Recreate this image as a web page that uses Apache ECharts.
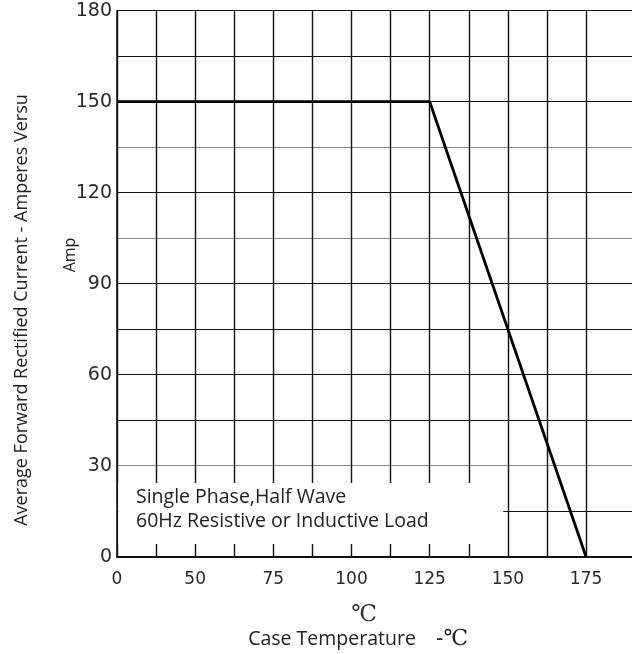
<!DOCTYPE html>
<html>
<head>
<meta charset="utf-8">
<script src="https://cdn.jsdelivr.net/npm/echarts@6/dist/echarts.min.js"></script>
<style>html,body{margin:0;padding:0;background:#fff}#c{width:632px;height:654px}</style>
</head>
<body>
<div id="c"></div>
<script>
// Data
const temps = [25, 125, 175];
const amps = [150, 150, 0];
const xTickValues = [25, 50, 75, 100, 125, 150, 175];
const xTickLabels = ['0', '50', '75', '100', '125', '150', '175'];
const yTickValues = [0, 30, 60, 90, 120, 150, 180];
const yTickLabels = ['0', '30', '60', '90', '120', '150', '180'];
const noteLines = ['Single Phase,Half Wave', '60Hz Resistive or Inductive Load'];

const chart = echarts.init(document.getElementById('c'), null, {renderer: 'canvas'});
const FONT = 'Open Sans';
const NUMFONT = 'DejaVu Sans';
const xColors = [];
for (let i = 0; i < 13; i++) xColors.push('#111');
xColors.push('rgba(0,0,0,0)', 'rgba(0,0,0,0)', 'rgba(0,0,0,0)');
const yColors = ['#111', '#111', '#8a8a8a', '#111', '#111', '#111', '#111', '#8a8a8a', '#111', '#8a8a8a', '#111', '#111', '#111'];

chart.setOption({
  animation: false,
  backgroundColor: '#fff',
  grid: {left: 117, right: 0, top: 10.7, bottom: 97.3, containLabel: false},
  xAxis: {
    type: 'value', min: 25, max: 189.7, interval: 12.5,
    axisLine: {show: true, onZero: false, lineStyle: {color: '#111', width: 2}},
    axisTick: {show: false},
    axisLabel: {
      color: '#2a2a2a', fontFamily: NUMFONT, fontSize: 17, margin: 14,
      showMinLabel: true, showMaxLabel: false,
      formatter: v => { const i = xTickValues.indexOf(v); return i >= 0 ? xTickLabels[i] : ''; }
    },
    splitLine: {show: true, showMinLine: true, showMaxLine: false, lineStyle: {color: xColors, width: 1.4}}
  },
  yAxis: {
    type: 'value', min: 0, max: 180, interval: 15,
    axisLine: {show: true, lineStyle: {color: '#111', width: 1.5}},
    axisTick: {show: false},
    axisLabel: {
      color: '#2a2a2a', fontFamily: NUMFONT, fontSize: 19, margin: 5,
      formatter: v => { const i = yTickValues.indexOf(v); return i >= 0 ? yTickLabels[i] : ''; }
    },
    splitLine: {show: true, lineStyle: {color: yColors, width: 1.2}}
  },
  series: [{
    type: 'line',
    data: temps.map((t, i) => [t, amps[i]]),
    symbol: 'none',
    lineStyle: {color: '#000', width: 2.8},
    z: 5,
    markArea: {
      silent: true,
      itemStyle: {color: '#fff'},
      label: {show: false},
      data: [[{coord: [25.4, 4.2]}, {coord: [148.5, 24.3]}]]
    }
  }],
  graphic: [
    {type: 'text', x: 136, y: 497, z: 10,
     style: {text: noteLines[0], fontFamily: FONT, fontSize: 19.5, fill: '#222', verticalAlign: 'middle'}},
    {type: 'text', x: 136, y: 521, z: 10,
     style: {text: noteLines[1], fontFamily: FONT, fontSize: 19.5, fill: '#222', verticalAlign: 'middle'}},
    {type: 'text', x: 22, y: 310, rotation: Math.PI / 2, z: 10,
     style: {text: 'Average Forward Rectified Current - Amperes Versu', fontFamily: FONT, fontSize: 18, fill: '#222', align: 'center', verticalAlign: 'middle'}},
    {type: 'text', x: 70, y: 255, rotation: Math.PI / 2, z: 10,
     style: {text: 'Amp', fontFamily: FONT, fontSize: 16, fill: '#222', align: 'center', verticalAlign: 'middle'}},
    {type: 'text', x: 364, y: 615, z: 10,
     style: {text: '℃', fontFamily: 'DejaVu Serif', fontSize: 23, fill: '#333', align: 'center', verticalAlign: 'middle'}},
    {type: 'text', x: 332, y: 639, z: 10,
     style: {text: 'Case Temperature', fontFamily: FONT, fontSize: 19.5, fill: '#222', align: 'center', verticalAlign: 'middle'}},
    {type: 'text', x: 452, y: 639, z: 10,
     style: {text: '-℃', fontFamily: 'DejaVu Serif', fontSize: 22, fill: '#222', align: 'center', verticalAlign: 'middle'}}
  ]
});
</script>
</body>
</html>
